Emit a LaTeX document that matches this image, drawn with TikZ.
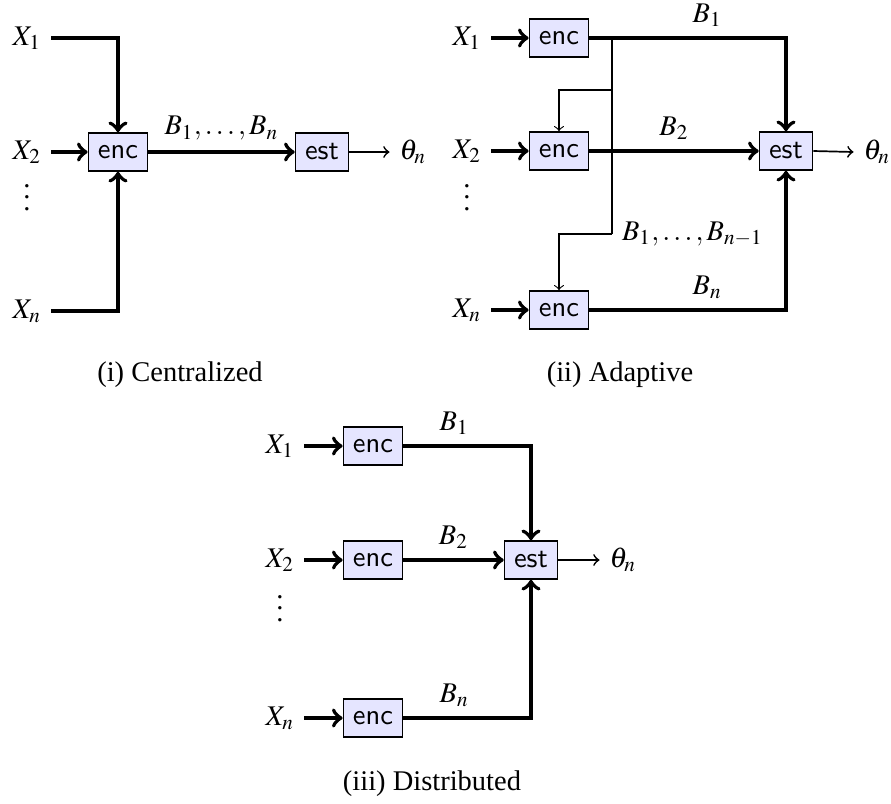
\documentclass[tikz,border=0pt]{standalone}
\usepackage{amsmath,amssymb}
\usepackage{mathptmx}
\usepackage{fontspec}
\setmainfont{Liberation Serif}
\usepackage{tikz}
\usetikzlibrary{arrows.meta}

\tikzset{
  codebox/.style={draw, fill=blue!10, semithick, font=\sffamily, minimum height=13.3pt},
  wire/.style={line width=1.4pt, ->},
  fbwire/.style={thin, ->},
  outwire/.style={semithick, ->},
  dotsnode/.style={inner sep=0pt}
}

\begin{document}
\begin{tikzpicture}[line join=miter,>=to,x=0.351pt,y=-0.351pt]
\useasboundingbox (0,0) rectangle (891,803);
% (i) centralized
\node (cx1) at (27,38) {$X_1$};
\node (cx2) at (27,152) {$X_2$};
\node [dotsnode] (cdots) at (27,189) {$\vdots$};
\node (cxn) at (27,311) {$X_n$};
\node [codebox] (cenc) at (118,152) {enc};
\node [codebox] (cest) at (322,152) {est};
\node (cth) at (413,152) {$\theta_n$};
\draw [wire] (cx1.east) -| (cenc.north);
\draw [wire] (cx2.east) -- (cenc.west);
\draw [wire] (cxn.east) -| (cenc.south);
\draw [wire] (cenc.east) -- node[above] {$B_1,\ldots,B_n$} (cest.west);
\draw [outwire] (cest.east) -- (cth.west);
\node (ccap) at (180,375) {(i)~Centralized};
% (ii) adaptive
\node (ax1) at (467,38) {$X_1$};
\node (ax2) at (467,151) {$X_2$};
\node [dotsnode] (adots) at (467,189) {$\vdots$};
\node (axn) at (467,310) {$X_n$};
\node [codebox] (aenc1) at (559,38) {enc};
\node [codebox] (aenc2) at (559,151) {enc};
\node [codebox] (aencn) at (559,310) {enc};
\node [codebox] (aest) at (786,151) {est};
\node (ath) at (877,152) {$\theta_n$};
\draw [wire] (ax1.east) -- (aenc1.west);
\draw [wire] (ax2.east) -- (aenc2.west);
\draw [wire] (axn.east) -- (aencn.west);
\coordinate (tap1) at (612,38);
\coordinate (tap2) at (612,90);
\coordinate (tapn) at (612,234);
\draw [thin] (tap1) -- (tapn) node[right] {$B_1,\ldots,B_{n-1}$};
\draw [fbwire] (tap2) -| (aenc2.north);
\draw [fbwire] (tapn) -| (aencn.north);
\draw [wire] (aenc1.east) -| node[above,pos=0.3] {$B_1$} (aest.north);
\draw [wire] (aenc2.east) -- node[above] {$B_2$} (aest.west);
\draw [wire] (aencn.east) -| node[above,pos=0.3] {$B_n$} (aest.south);
\draw [outwire] (aest.east) -- (ath.west);
\node (acap) at (620,375) {(ii)~Adaptive};
% (iii) distributed
\node (dx1) at (280,446) {$X_1$};
\node (dx2) at (280,560) {$X_2$};
\node [dotsnode] (ddots) at (280,600) {$\vdots$};
\node (dxn) at (280,718) {$X_n$};
\node [codebox] (denc1) at (373,446) {enc};
\node [codebox] (denc2) at (373,560) {enc};
\node [codebox] (dencn) at (373,718) {enc};
\node [codebox] (dest) at (531,560) {est};
\node (dth) at (623,560) {$\theta_n$};
\draw [wire] (dx1.east) -- (denc1.west);
\draw [wire] (dx2.east) -- (denc2.west);
\draw [wire] (dxn.east) -- (dencn.west);
\draw [wire] (denc1.east) -| node[above,pos=0.2] {$B_1$} (dest.north);
\draw [wire] (denc2.east) -- node[above] {$B_2$} (dest.west);
\draw [wire] (dencn.east) -| node[above,pos=0.2] {$B_n$} (dest.south);
\draw [outwire] (dest.east) -- (dth.west);
\node (dcap) at (432,784) {(iii)~Distributed};
\end{tikzpicture}
\end{document}
